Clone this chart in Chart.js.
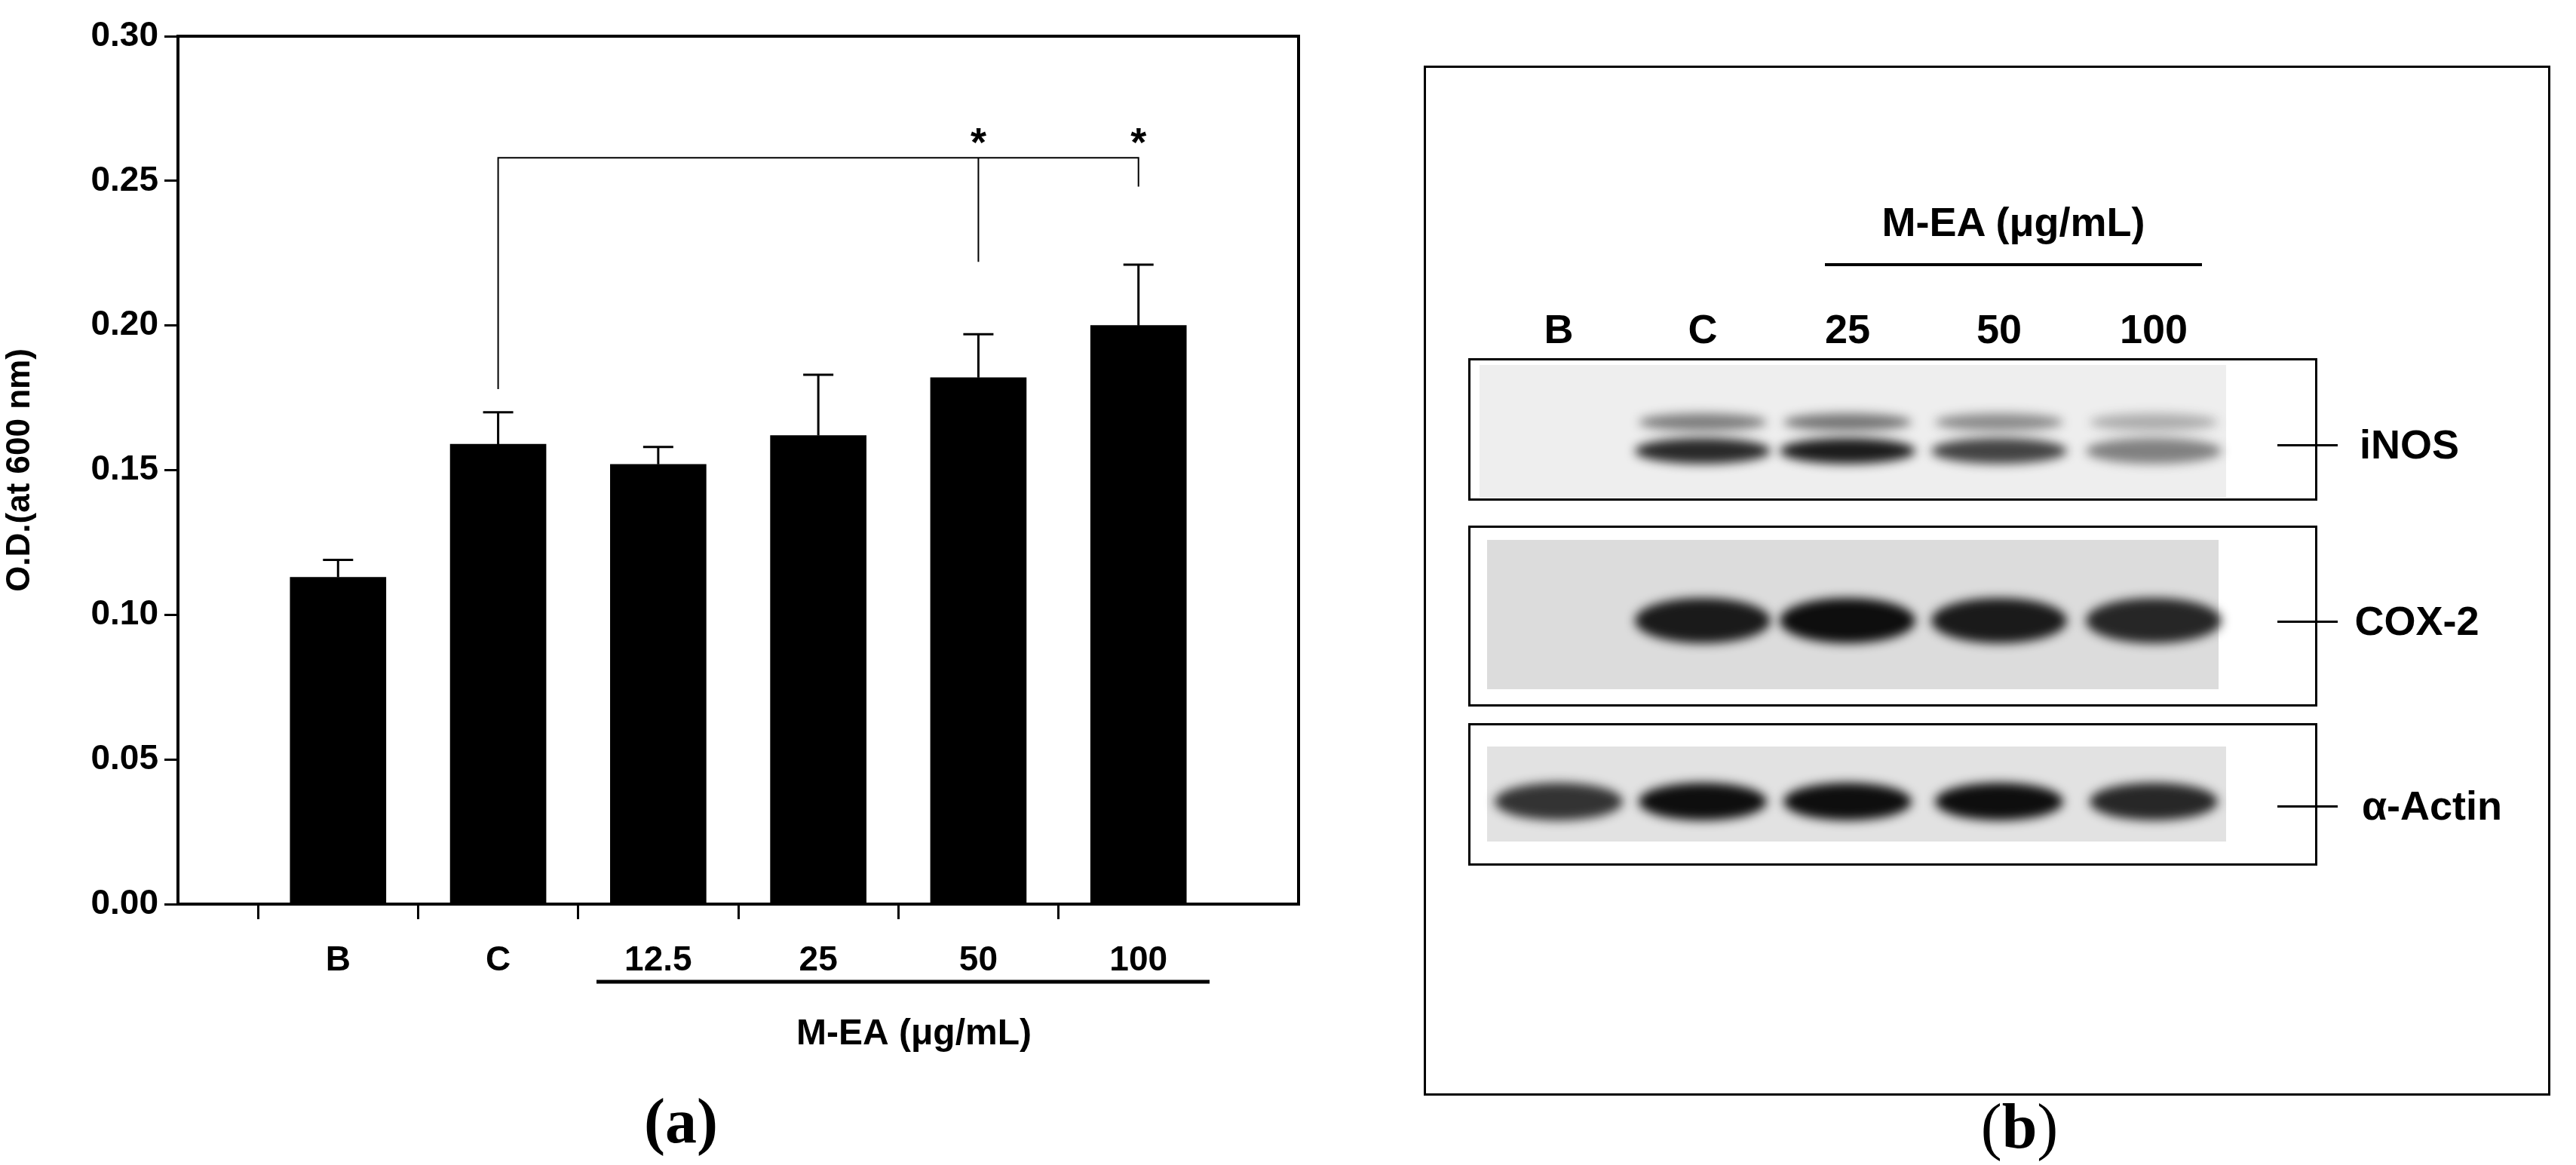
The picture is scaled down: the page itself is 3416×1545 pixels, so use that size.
<!DOCTYPE html>
<html><head><meta charset="utf-8">
<script src="https://cdn.jsdelivr.net/npm/chart.js@4.4.0/dist/chart.umd.min.js"></script>
<style>
body{margin:0;background:#fff;width:3416px;height:1545px;position:relative;overflow:hidden;font-family:"Liberation Sans",Arial,sans-serif;font-weight:bold}
#wrap{position:absolute;left:0;top:0;width:1800px;height:1545px}
.abs{position:absolute}
.lbl{position:absolute;font-size:54px;transform:translate(-50%,-50%);white-space:nowrap}
.blot{position:absolute;border:3px solid #000;background:#fff}
.img{position:absolute;background:#e6e6e6}
.band{position:absolute;border-radius:50%;filter:blur(7px)}
.hl{position:absolute;height:3px;background:#000}
</style></head><body>
<div id="wrap"><canvas id="c"></canvas></div>

<div class="abs" style="left:1888px;top:87px;width:1488px;height:1360px;border:3px solid #000"></div>
<div class="lbl" style="left:2670px;top:294px">M-EA (μg/mL)</div>
<div class="hl" style="left:2420px;top:349px;width:500px;height:4px"></div>
<div class="lbl" style="left:2067px;top:436px">B</div>
<div class="lbl" style="left:2258px;top:436px">C</div>
<div class="lbl" style="left:2450px;top:436px">25</div>
<div class="lbl" style="left:2651px;top:436px">50</div>
<div class="lbl" style="left:2856px;top:436px">100</div>

<div class="blot" style="left:1947px;top:475px;width:1120px;height:183px"></div>
<div class="img" style="left:1962px;top:484px;width:990px;height:176px;background:#eee"></div>
<div class="blot" style="left:1947px;top:697px;width:1120px;height:234px"></div>
<div class="img" style="left:1972px;top:716px;width:970px;height:198px;background:#dcdcdc"></div>
<div class="blot" style="left:1947px;top:959px;width:1120px;height:183px"></div>
<div class="img" style="left:1972px;top:990px;width:980px;height:126px;background:#e2e2e2"></div>

<div id="bands"></div>

<div class="hl" style="left:3020px;top:589px;width:80px"></div>
<div class="lbl" style="left:3195px;top:589px">iNOS</div>
<div class="hl" style="left:3020px;top:823px;width:80px"></div>
<div class="lbl" style="left:3205px;top:823px">COX-2</div>
<div class="hl" style="left:3020px;top:1068px;width:80px"></div>
<div class="lbl" style="left:3225px;top:1068px">α-Actin</div>
<div class="lbl" style="left:2678px;top:1493px;font-family:'Liberation Serif',serif;font-size:84px;font-weight:normal">(<b>b</b>)</div>

<script>
// bar chart data (a)
const categories = ['', 'B', 'C', '12.5', '25', '50', '100', ''];
const odValues = [null, 0.113, 0.159, 0.152, 0.162, 0.182, 0.200, null];
const errTop = [null, 0.119, 0.170, 0.158, 0.183, 0.197, 0.221, null];
const yTicks = [0, 0.05, 0.10, 0.15, 0.20, 0.25, 0.30];

// blot lanes (b): x centre, band darkness per row
const laneX = [2067, 2258, 2450, 2651, 2856];
const inosBand = [0.0, 0.85, 0.9, 0.75, 0.5];
const coxBand = [0.0, 0.9, 0.95, 0.9, 0.85];
const actinBand = [0.8, 0.95, 0.95, 0.95, 0.85];

function addBands(arr, y, h, w) {
  const box = document.getElementById('bands');
  arr.forEach((a, i) => {
    if (a <= 0) return;
    const d = document.createElement('div');
    d.className = 'band';
    const g = Math.round(40 * (1 - a));
    d.style.cssText = `left:${laneX[i] - w / 2}px;top:${y - h / 2}px;width:${w}px;height:${h}px;background:rgba(${g},${g},${g},${a})`;
    box.appendChild(d);
  });
}
addBands(inosBand, 598, 34, 180);
addBands(inosBand.map(v => v * 0.6), 560, 24, 170);
addBands(coxBand, 823, 60, 180);
addBands(actinBand, 1063, 50, 170);

const font = {family: 'Liberation Sans', weight: 'bold', size: 46};

const extras = {
  id: 'extras',
  afterDatasetsDraw(chart) {
    const ctx = chart.ctx, x = chart.scales.x, y = chart.scales.y, a = chart.chartArea;
    ctx.save();
    ctx.strokeStyle = '#000';
    // frame
    ctx.lineWidth = 4;
    ctx.beginPath();
    ctx.moveTo(a.left, a.bottom); ctx.lineTo(a.left, a.top); ctx.lineTo(a.right, a.top);
    ctx.lineTo(a.right, a.bottom); ctx.lineTo(a.left, a.bottom);
    ctx.stroke();
    // error bars
    ctx.lineWidth = 3;
    errTop.forEach((e, i) => {
      if (e == null) return;
      const px = x.getPixelForValue(i);
      ctx.beginPath();
      ctx.moveTo(px, y.getPixelForValue(odValues[i])); ctx.lineTo(px, y.getPixelForValue(e));
      ctx.moveTo(px - 20, y.getPixelForValue(e)); ctx.lineTo(px + 20, y.getPixelForValue(e));
      ctx.stroke();
    });
    // significance bracket
    ctx.lineWidth = 2;
    const xc = x.getPixelForValue(2), x50 = x.getPixelForValue(5), x100 = x.getPixelForValue(6);
    ctx.beginPath();
    ctx.moveTo(xc, y.getPixelForValue(0.178)); ctx.lineTo(xc, y.getPixelForValue(0.258));
    ctx.lineTo(x100, y.getPixelForValue(0.258)); ctx.lineTo(x100, y.getPixelForValue(0.248));
    ctx.moveTo(x50, y.getPixelForValue(0.258)); ctx.lineTo(x50, y.getPixelForValue(0.222));
    ctx.stroke();
    ctx.fillStyle = '#000';
    ctx.font = 'bold 54px "Liberation Sans"';
    ctx.textAlign = 'center';
    ctx.textBaseline = 'middle';
    ctx.fillText('*', x50, y.getPixelForValue(0.2625));
    ctx.fillText('*', x100, y.getPixelForValue(0.2625));
    // group underline + label
    ctx.lineWidth = 5;
    ctx.beginPath();
    ctx.moveTo(791, 1302); ctx.lineTo(1604, 1302);
    ctx.stroke();
    ctx.font = 'bold 48px "Liberation Sans"';
    ctx.fillText('M-EA (μg/mL)', 1212, 1372);
    ctx.font = 'bold 84px "Liberation Serif"';
    ctx.fillText('(a)', 903, 1493);
    ctx.restore();
  }
};

new Chart(document.getElementById('c'), {
  type: 'bar',
  data: {
    labels: categories,
    datasets: [{data: odValues, backgroundColor: '#000', barThickness: 127}]
  },
  options: {
    responsive: true,
    maintainAspectRatio: false,
    animation: false,
    layout: {padding: {top: 48, right: 78, left: 0, bottom: 0}},
    plugins: {legend: {display: false}, tooltip: {enabled: false}},
    scales: {
      x: {
        offset: false,
        afterFit: s => { s.height = 346; },
        border: {display: false},
        grid: {drawOnChartArea: false, tickLength: 20, lineWidth: 3,
          color: c => (c.tick && categories[c.index] ? '#000' : 'rgba(0,0,0,0)')},
        ticks: {color: '#000', font: font, padding: 28, maxRotation: 0, autoSkip: false}
      },
      y: {
        min: 0, max: 0.30,
        afterFit: s => { s.width = 236; },
        afterBuildTicks: s => { s.ticks = yTicks.map(v => ({value: v})); },
        border: {display: false},
        grid: {drawOnChartArea: false, tickLength: 18, lineWidth: 3, color: '#000'},
        ticks: {color: '#000', font: font, padding: 8, callback: v => v.toFixed(2)},
        title: {display: true, text: 'O.D.(at 600 nm)', color: '#000', font: {family: 'Liberation Sans', weight: 'bold', size: 44}, padding: 0}
      }
    }
  },
  plugins: [extras]
});
</script>
</body></html>
